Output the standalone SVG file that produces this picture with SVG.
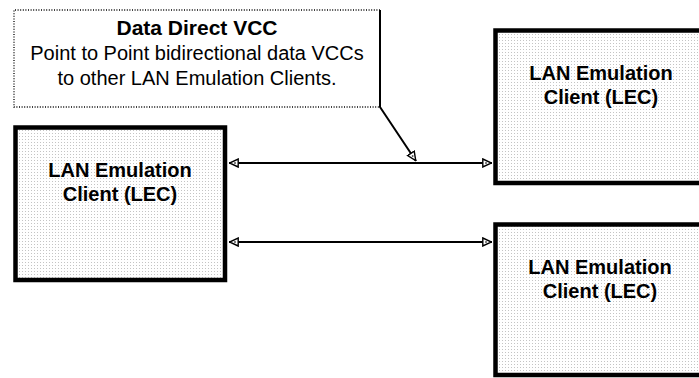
<svg xmlns="http://www.w3.org/2000/svg" width="699" height="378" viewBox="0 0 699 378">
<style>
.lec{stroke:#000;stroke-width:4.5;fill:url(#stip)}
.t{font-family:"Liberation Sans",Arial,sans-serif;font-size:20px;fill:#000;text-anchor:middle}
.b{font-weight:bold}
.conn{stroke:#000;stroke-width:2;fill:none}
</style>
<defs>
<pattern id="stip" width="3" height="3" patternUnits="userSpaceOnUse">
<rect width="3" height="3" fill="#fff"/>
<rect x="1" y="1" width="1" height="1" fill="#c4c4c4"/>
</pattern>
<marker id="ah" viewBox="0 0 10 10" refX="10" refY="5" markerWidth="10" markerHeight="10" markerUnits="userSpaceOnUse" orient="auto-start-reverse">
<path d="M0.8,1 L9.5,5 L0.8,9 Z" fill="#fff" stroke="#000" stroke-width="1.4"/>
<circle cx="4" cy="5" r="1" fill="#555"/>
</marker>
</defs>
<rect width="699" height="378" fill="#fff"/>
<g id="callout">
<path d="M380,10 L14,10 L14,107 L380,107" fill="#fff" stroke="#000" stroke-width="1.3" stroke-dasharray="1 1.6"/>
<text class="t b" x="197" y="35" textLength="161" lengthAdjust="spacingAndGlyphs">Data Direct VCC</text>
<text class="t" x="197" y="60">Point to Point bidirectional data VCCs</text>
<text class="t" x="197" y="85">to other LAN Emulation Clients.</text>
</g>
<g id="lec-left">
<rect class="lec" x="15.5" y="127.5" width="209.5" height="152.5"/>
<text class="t b" x="120" y="177">LAN Emulation</text>
<text class="t b" x="120" y="201">Client (LEC)</text>
</g>
<g id="lec-top-right">
<rect class="lec" x="495.5" y="30.5" width="220" height="152.5"/>
<text class="t b" x="601" y="80">LAN Emulation</text>
<text class="t b" x="601" y="104">Client (LEC)</text>
</g>
<g id="lec-bottom-right">
<rect class="lec" x="495.5" y="224.5" width="220" height="150.5"/>
<text class="t b" x="600" y="274">LAN Emulation</text>
<text class="t b" x="600" y="298">Client (LEC)</text>
</g>
<g id="connectors">
<path class="conn" d="M380,10 L380,107 L416,161" stroke-width="2.8" marker-end="url(#ah)"/>
<line class="conn" x1="229" y1="163" x2="492" y2="163" marker-start="url(#ah)" marker-end="url(#ah)"/>
<line class="conn" x1="229" y1="242" x2="492" y2="242" marker-start="url(#ah)" marker-end="url(#ah)"/>
</g>
</svg>
